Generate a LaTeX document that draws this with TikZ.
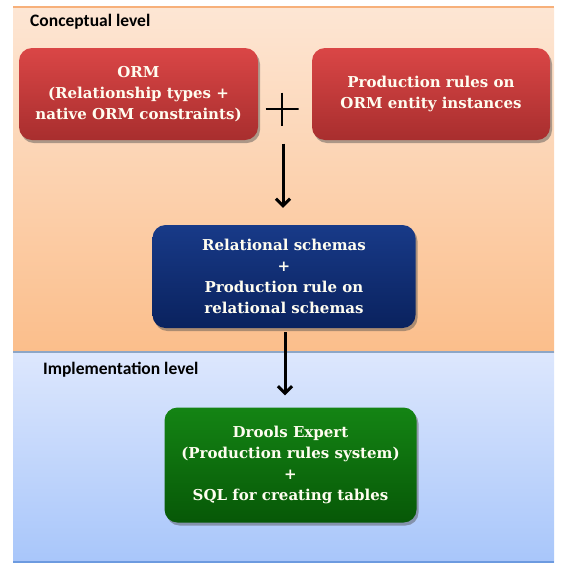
\documentclass[tikz,border=0pt]{standalone}
\usepackage{fontspec}
\setmainfont{DejaVu Serif}
\newfontfamily\labelfont{Carlito}
\usetikzlibrary{shadows,arrows.meta}

\definecolor{bandOrangeTop}{HTML}{FDE6D4}
\definecolor{bandOrangeBot}{HTML}{FBBE8B}
\definecolor{bandOrangeLine}{HTML}{F7B07A}
\definecolor{bandBlueTop}{HTML}{DDE7FD}
\definecolor{bandBlueBot}{HTML}{A8C6FA}
\definecolor{bandBlueLine}{HTML}{6D9BE0}
\definecolor{bandSep}{HTML}{8DA6C6}
\definecolor{redTop}{HTML}{DA4646}
\definecolor{redBot}{HTML}{A82E2E}
\definecolor{navyTop}{HTML}{183A88}
\definecolor{navyBot}{HTML}{0A225E}
\definecolor{greenTop}{HTML}{148414}
\definecolor{greenBot}{HTML}{075807}
\definecolor{boxText}{HTML}{FFFDF0}

\tikzset{
  levellabel/.style={anchor=west, font=\labelfont\bfseries\fontsize{17.5}{20}\selectfont, text=black, inner sep=0pt},
  stagebox/.style={rounded corners=13pt, align=center, text=boxText,
    font=\bfseries\fontsize{15}{20.8}\selectfont, inner sep=0pt,
    drop shadow={shadow xshift=2pt, shadow yshift=-3pt, opacity=0.45, fill=black!70}},
  redbox/.style={stagebox, top color=redTop, bottom color=redBot},
  navybox/.style={stagebox, top color=navyTop, bottom color=navyBot},
  greenbox/.style={stagebox, top color=greenTop, bottom color=greenBot},
  plusmark/.style={minimum size=33pt, inner sep=0pt,
    path picture={\draw[line width=2pt]
      (path picture bounding box.north) -- (path picture bounding box.south)
      (path picture bounding box.west) -- (path picture bounding box.east);}},
  flow/.style={line width=3pt, -{Straight Barb[length=7pt,width=14pt,line width=3pt]}}
}

\begin{document}
\begin{tikzpicture}[x=1pt,y=-1pt]
\useasboundingbox (0,0) rectangle (564,563);

% level bands
\fill[top color=bandOrangeTop, bottom color=bandOrangeBot] (13,7) rectangle (554,352);
\draw[bandOrangeLine, line width=2pt] (13,7) -- (554,7);
\fill[top color=bandBlueTop, bottom color=bandBlueBot] (13,352) rectangle (554,562);
\draw[bandSep, line width=1.5pt] (13,352) -- (554,352);
\draw[bandBlueLine, line width=1.5pt] (13,562) -- (554,562);

\node[levellabel] (conc) at (30,22) {Conceptual level};
\node[levellabel] (impl) at (43,370) {Implementation level};

% stages
\node[redbox, minimum width=239pt, minimum height=92pt] (orm) at (138.5,94)
  {ORM\\(Relationship types +\\native ORM constraints)};
\node[redbox, minimum width=238pt, minimum height=92pt] (rules) at (431,94)
  {Production rules on\\ORM entity instances};
\node[plusmark] (plus) at (282,109) {};

\node[navybox, minimum width=263pt, minimum height=103pt] (rel) at (284,276.5)
  {Relational schemas\\+\\Production rule on\\relational schemas};

\node[greenbox, minimum width=252pt, minimum height=115pt] (drools) at (290.5,465)
  {Drools Expert\\(Production rules system)\\+\\SQL for creating tables};

% flow arrows
\draw[flow] ([yshift=-18pt]plus.south -| 283,0) -- ([yshift=17pt]rel.north -| 283,0);
\draw[flow] ([xshift=1pt,yshift=-4pt]rel.south) -- ([xshift=-5.5pt,yshift=12pt]drools.north);
\end{tikzpicture}
\end{document}
